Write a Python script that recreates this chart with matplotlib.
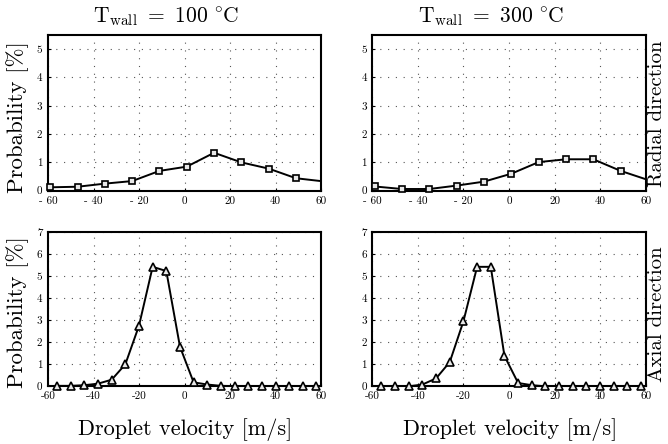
import numpy as np
import matplotlib
matplotlib.use('Agg')
import matplotlib.pyplot as plt

plt.rcParams['font.family'] = ['cmr10', 'DejaVu Serif']
plt.rcParams['mathtext.fontset'] = 'cm'
plt.rcParams['axes.unicode_minus'] = False

# radial direction (squares)
v_rad = [-59, -47, -35, -23, -11, 1, 13, 25, 37, 49, 61]
p_rad_100 = [0.12, 0.14, 0.25, 0.34, 0.70, 0.85, 1.34, 1.00, 0.78, 0.44, 0.33]
p_rad_300 = [0.15, 0.06, 0.06, 0.18, 0.32, 0.60, 1.01, 1.11, 1.11, 0.70, 0.38]

# axial direction (triangles)
v_ax = [-56, -50, -44, -38, -32, -26, -20, -14, -8, -2, 4, 10, 16, 22, 28, 34, 40, 46, 52, 58]
p_ax_100 = [0.02, 0.02, 0.05, 0.12, 0.30, 1.00, 2.75, 5.42, 5.23, 1.80, 0.18, 0.08,
            0.02, 0.01, 0.01, 0.0, 0.0, 0.0, 0.0, 0.0]
p_ax_300 = [0.0, 0.0, 0.0, 0.08, 0.36, 1.10, 2.95, 5.42, 5.42, 1.38, 0.15, 0.05,
            0.0, 0.0, 0.0, 0.0, 0.0, 0.0, 0.0, 0.0]

xticks = [-60, -40, -20, 0, 20, 40, 60]
xlabels_top = ['- 60', '- 40', '- 20', '0', '20', '40', '60']
xlabels_bot = ['-60', '-40', '-20', '0', '20', '40', '60']

fig = plt.figure(figsize=(6.68, 4.44), dpi=100)
W, H = 668, 444


def make_ax(x0, y0, x1, y1):
    return fig.add_axes([x0 / W, 1 - y1 / H, (x1 - x0) / W, (y1 - y0) / H])


axes = [
    make_ax(48, 35, 321, 190.7),
    make_ax(372.3, 35, 645.7, 190.7),
    make_ax(48, 232, 321, 386.3),
    make_ax(372.3, 232, 645.7, 386.3),
]

data = [(v_rad, p_rad_100, 's'), (v_rad, p_rad_300, 's'),
        (v_ax, p_ax_100, '^'), (v_ax, p_ax_300, '^')]

for i, (ax, (x, y, m)) in enumerate(zip(axes, data)):
    x = np.array(x)
    y = np.array(y)
    ax.plot(x, y, color='black', lw=1.4, zorder=3)
    inside = (x >= -60) & (x <= 60)
    ax.plot(x[inside], y[inside], ls='none', marker=m, ms=4.8 if m == 's' else 6,
            mfc='#e8e8e8', mec='black', mew=1.2, clip_on=False, zorder=4)
    ax.set_xlim(-60, 60)
    ax.set_xticks(xticks)
    if i < 2:
        ax.set_ylim(0, 5.5)
        ax.set_yticks([0, 1, 2, 3, 4, 5])
        ax.set_xticklabels(xlabels_top)
    else:
        ax.set_ylim(0, 7)
        ax.set_yticks([0, 1, 2, 3, 4, 5, 6, 7])
        ax.set_xticklabels(xlabels_bot)
    ax.grid(True, linestyle=(0, (1, 6)), color='#555555', lw=0.8)
    ax.tick_params(direction='in', length=2, labelsize=8, pad=4, colors='black')
    for s in ax.spines.values():
        s.set_linewidth(1.5)

# titles
fig.text(166 / W, 1 - 17 / H, r'$\mathrm{T}_{\mathrm{wall}}\ =\ 100\ ^{\circ}\mathrm{C}$',
         ha='center', va='center', fontsize=15.5)
fig.text(491 / W, 1 - 17 / H, r'$\mathrm{T}_{\mathrm{wall}}\ =\ 300\ ^{\circ}\mathrm{C}$',
         ha='center', va='center', fontsize=15.5)

# y labels
fig.text(18 / W, 1 - 117 / H, 'Probability [%]', rotation=90, ha='center', va='center', fontsize=16.5)
fig.text(18 / W, 1 - 312 / H, 'Probability [%]', rotation=90, ha='center', va='center', fontsize=16.5)

# row labels on right
fig.text(657 / W, 1 - 114 / H, 'Radial direction', rotation=90, ha='center', va='center', fontsize=15)
fig.text(657 / W, 1 - 314 / H, 'Axial direction', rotation=90, ha='center', va='center', fontsize=15)

# x labels
fig.text(185 / W, 1 - 430 / H, 'Droplet velocity [m/s]', ha='center', va='center', fontsize=16)
fig.text(510 / W, 1 - 430 / H, 'Droplet velocity [m/s]', ha='center', va='center', fontsize=16)

fig.savefig('out.png', dpi=100, facecolor='white')
